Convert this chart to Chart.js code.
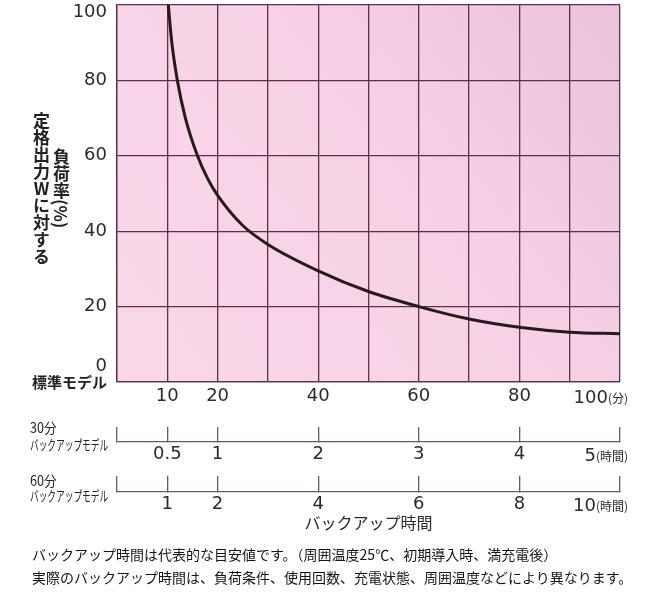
<!DOCTYPE html>
<html lang="ja">
<head>
<meta charset="utf-8">
<script src="https://cdn.jsdelivr.net/npm/chart.js@4/dist/chart.umd.min.js"></script>
<style>
  body { margin: 0; background: #fff; }
  #wrap { position: relative; width: 650px; height: 600px; overflow: hidden; }
  #wrap canvas { position: absolute; left: 0; top: 0; }
  .jp { position: absolute; font-family: 'Noto Sans CJK JP', sans-serif; color: #222; white-space: nowrap; line-height: 1; }
  .vcol { writing-mode: vertical-rl; font-size: 17px; font-weight: bold; }
  .model { font-size: 14px; transform-origin: 0 0; }
  .num { transform: scaleX(0.9); }
  .squeeze { transform: scaleX(0.62); }
  .note { left: 32px; font-size: 14px; line-height: 23px; color: #151515; }
</style>
</head>
<body>
<div id="wrap">
  <canvas id="backupChart"></canvas>
  <div class="jp vcol" style="left:33px; top:112px; text-orientation:upright;">定格出力Wに対する</div>
  <div class="jp vcol" style="left:53px; top:148px; text-orientation:mixed;">負荷率(%)</div>
  <div class="jp" style="left:32px; top:374px; font-size:15px; font-weight:bold;">標準モデル</div>
  <div class="jp model num" style="left:30px; top:420px;">30分</div>
  <div class="jp model squeeze" style="left:30px; top:437px;">バックアップモデル</div>
  <div class="jp model num" style="left:30px; top:473px;">60分</div>
  <div class="jp model squeeze" style="left:30px; top:488px;">バックアップモデル</div>
  <div class="jp note" style="top:543px;">バックアップ時間は代表的な目安値です。（周囲温度25℃、初期導入時、満充電後）<br>実際のバックアップ時間は、負荷条件、使用回数、充電状態、周囲温度などにより異なります。</div>
</div>
<script>
// curve (minutes vs % of rated output)
var backupMinutes = [10.2, 10.9, 12, 13.6, 16, 18, 20, 25, 30, 40, 50, 60, 70, 80, 90, 100];
var loadPercent = [100, 90, 80, 70, 60, 54, 49.5, 41.5, 36.5, 29.5, 24, 20, 16.7, 14.5, 13.2, 12.8];

// grid lines every 10, labels on a subset
var minuteGrid = [0, 10, 20, 30, 40, 50, 60, 70, 80, 90, 100];
var minuteTicks = [10, 20, 40, 60, 80, 100];
var loadGrid = [0, 10, 20, 30, 40, 50, 60, 70, 80, 90, 100];
var loadTicks = [0, 20, 40, 60, 80, 100];

// secondary scales: 30 min model and 60 min model, in hours
var model30Ticks = [0.5, 1, 2, 3, 4, 5];
var model60Ticks = [1, 2, 4, 6, 8, 10];

var GRID = '#5e2f48';
var AXIS = '#6a5a62';
var INK = '#2b2b2b';

Chart.defaults.font.family = "'DejaVu Sans', sans-serif";
Chart.defaults.color = INK;

function fixedTicks(values) {
  return function (scale) {
    scale.ticks = values.map(function (v) { return { value: v }; });
  };
}

function last(arr) { return arr[arr.length - 1]; }

var plotPaper = {
  id: 'plotPaper',
  beforeDraw: function (chart) {
    var a = chart.chartArea, ctx = chart.ctx;
    var g = ctx.createLinearGradient(a.left, a.bottom, a.right, a.top);
    g.addColorStop(0, '#f9d8ea');
    g.addColorStop(0.6, '#f6d1e5');
    g.addColorStop(1, '#ebc2da');
    ctx.save();
    ctx.fillStyle = g;
    ctx.fillRect(a.left, a.top, a.right - a.left, a.bottom - a.top);
    ctx.restore();
  }
};

// last label of each bottom scale carries a small unit, right aligned
var unitLabels = {
  id: 'unitLabels',
  afterDraw: function (chart) {
    var ctx = chart.ctx;
    var items = [['x', '(分)', minuteTicks], ['x30', '(時間)', model30Ticks], ['x60', '(時間)', model60Ticks]];
    items.forEach(function (it) {
      var s = chart.scales[it[0]];
      var o = s.options;
      var tl = o.grid.drawTicks ? o.grid.tickLength : 0;
      var yMid = s.top + tl + o.ticks.padding + 10.8;
      var right = s.getPixelForValue(last(it[2])) + 8;
      ctx.save();
      ctx.fillStyle = INK;
      ctx.textBaseline = 'alphabetic';
      ctx.textAlign = 'right';
      ctx.font = "12px 'Noto Sans CJK JP'";
      ctx.fillText(it[1], right, yMid + 6.5);
      var w = ctx.measureText(it[1]).width;
      ctx.font = "18px 'DejaVu Sans'";
      ctx.fillText(String(last(it[2])), right - w, yMid + 6.5);
      ctx.restore();
    });
  }
};

new Chart(document.getElementById('backupChart'), {
  type: 'line',
  data: {
    datasets: [{
      data: backupMinutes.map(function (m, i) { return { x: m, y: loadPercent[i] }; }),
      borderColor: '#241a20',
      borderWidth: 3,
      pointRadius: 0,
      fill: false,
      cubicInterpolationMode: 'monotone',
      xAxisID: 'x',
      yAxisID: 'y'
    }]
  },
  options: {
    responsive: true,
    maintainAspectRatio: false,
    animation: false,
    events: [],
    layout: { padding: { top: 5, right: 30, bottom: 63, left: 0 } },
    plugins: { legend: { display: false }, tooltip: { enabled: false } },
    scales: {
      y: {
        type: 'linear', min: 0, max: 100, position: 'left',
        afterBuildTicks: fixedTicks(loadGrid),
        afterFit: function (s) { s.width = 117; s.paddingTop = 0; s.paddingBottom = 0; },
        grid: { color: GRID, lineWidth: 1.3, drawTicks: false },
        border: { color: GRID, width: 1.3 },
        ticks: {
          padding: 10,
          color: INK,
          font: function (c) {
            var v = c.tick ? c.tick.value : null;
            var lh = v === 0 ? 1.78 : (v === 100 ? 0.78 : 1.2);
            return { size: 18, lineHeight: lh };
          },
          callback: function (v) {
            if (loadTicks.indexOf(v) < 0) return '';
            if (v === 0) return ['0', ''];
            if (v === 100) return ['', '100'];
            return String(v);
          }
        }
      },
      x: {
        type: 'linear', min: 0, max: 100, position: 'bottom', weight: 0,
        afterBuildTicks: fixedTicks(minuteGrid),
        afterFit: function (s) { s.height = 60; s.paddingLeft = 0; s.paddingRight = 0; },
        grid: { color: GRID, lineWidth: 1.3, drawTicks: false },
        border: { color: GRID, width: 1.3 },
        ticks: {
          autoSkip: false, maxRotation: 0, padding: 4, font: { size: 18 },
          callback: function (v) {
            return (minuteTicks.indexOf(v) >= 0 && v !== last(minuteTicks)) ? String(v) : '';
          }
        }
      },
      x30: {
        type: 'linear', min: 0, max: 5, position: 'bottom', weight: 1,
        afterBuildTicks: fixedTicks([0].concat(model30Ticks)),
        afterFit: function (s) { s.height = 50; s.paddingLeft = 0; s.paddingRight = 0; },
        grid: { drawOnChartArea: false, drawTicks: true, tickLength: -15, color: AXIS, lineWidth: 1.3 },
        border: { color: AXIS, width: 1.3 },
        ticks: {
          autoSkip: false, maxRotation: 0, padding: 17, font: { size: 18 },
          callback: function (v) {
            return (v === 0 || v === last(model30Ticks)) ? '' : String(v);
          }
        }
      },
      x60: {
        type: 'linear', min: 0, max: 10, position: 'bottom', weight: 2,
        afterBuildTicks: fixedTicks([0].concat(model60Ticks)),
        afterFit: function (s) { s.height = 45; s.paddingLeft = 0; s.paddingRight = 0; },
        grid: { drawOnChartArea: false, drawTicks: true, tickLength: -16, color: AXIS, lineWidth: 1.3 },
        border: { color: AXIS, width: 1.3 },
        ticks: {
          autoSkip: false, maxRotation: 0, padding: 18, font: { size: 18 },
          callback: function (v) {
            return (v === 0 || v === last(model60Ticks)) ? '' : String(v);
          }
        },
        title: {
          display: true,
          text: 'バックアップ時間',
          color: INK,
          font: { family: "'Noto Sans CJK JP', sans-serif", size: 16 },
          padding: { top: 0, bottom: 4 }
        }
      }
    }
  },
  plugins: [plotPaper, unitLabels]
});
</script>
</body>
</html>
